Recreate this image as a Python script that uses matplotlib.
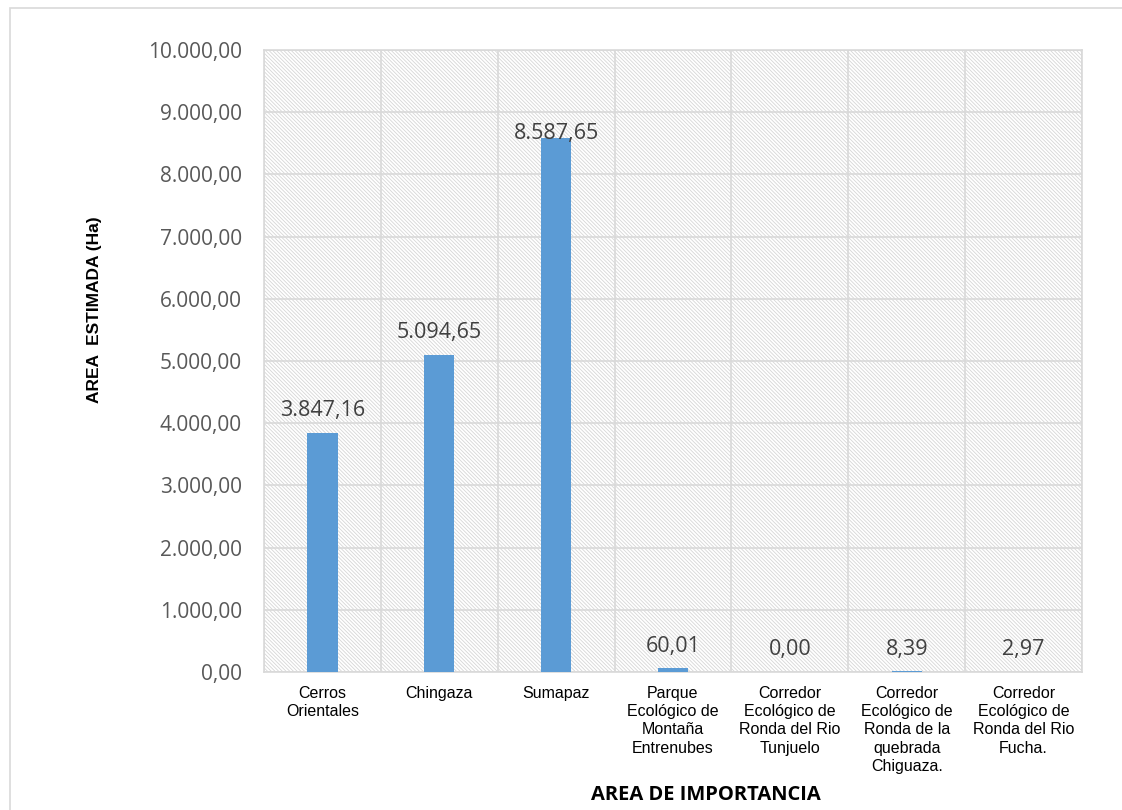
import matplotlib.pyplot as plt
import matplotlib.patches as mpatches
import numpy as np

categorias = [
    "Cerros\nOrientales",
    "Chingaza",
    "Sumapaz",
    "Parque\nEcológico de\nMontaña\nEntrenubes",
    "Corredor\nEcológico de\nRonda del Rio\nTunjuelo",
    "Corredor\nEcológico de\nRonda de la\nquebrada\nChiguaza.",
    "Corredor\nEcológico de\nRonda del Rio\nFucha.",
]
areas = [3847.16, 5094.65, 8587.65, 60.01, 0.00, 8.39, 2.97]
etiquetas = ["3.847,16", "5.094,65", "8.587,65", "60,01", "0,00", "8,39", "2,97"]
y_ticks = [0, 1000, 2000, 3000, 4000, 5000, 6000, 7000, 8000, 9000, 10000]


def formato_es(v):
    s = f"{v:,.2f}"
    return s.replace(",", "X").replace(".", ",").replace("X", ".")


plt.rcParams["hatch.color"] = "#d6d6d6"
plt.rcParams["hatch.linewidth"] = 0.6

fig = plt.figure(figsize=(11.22, 8.1), dpi=100)
# marco exterior del grafico
fig.patches.append(mpatches.Rectangle((10 / 1122, -0.01), 1.1, 1 - 8 / 810 + 0.01,
                                      transform=fig.transFigure, fill=False,
                                      edgecolor="#d9d9d9", linewidth=1.2))
ax = fig.add_axes([264 / 1122, 1 - 672 / 810, (1082 - 264) / 1122, (672 - 50) / 810])

# fondo rayado del area de trazado
ax.patch.set_facecolor("white")
fondo = mpatches.Rectangle((0, 0), 1, 1, transform=ax.transAxes, facecolor="white",
                           hatch="\\" * 9, edgecolor="#d6d6d6", linewidth=0, zorder=0)
ax.add_patch(fondo)

x = np.arange(len(categorias))
ax.bar(x, areas, width=0.26, color="#5b9bd5", zorder=3)

# la etiqueta de Sumapaz queda apoyada sobre el extremo de la barra
desplaz = {2: -1}
for i, (xi, v, t) in enumerate(zip(x, areas, etiquetas)):
    ax.annotate(t, (xi, v), xytext=(0, desplaz.get(i, 12)), textcoords="offset points",
                ha="center", va="baseline", fontsize=15.5, color="#404040",
                family="Open Sans", zorder=4)

ax.set_xlim(-0.5, len(categorias) - 0.5)
ax.set_ylim(0, 10000)
ax.set_yticks(y_ticks)
ax.set_yticklabels([formato_es(v) for v in y_ticks], fontsize=15, color="#595959",
                   family="Open Sans")
ax.set_xticks(x)
ax.set_xticklabels(categorias, fontsize=11.5, family="Liberation Sans", color="black",
                   linespacing=1.27, va="top")
ax.set_xticks(np.arange(len(categorias) + 1) - 0.5, minor=True)
ax.tick_params(axis="both", which="both", length=0)
ax.tick_params(axis="y", pad=16)
ax.tick_params(axis="x", pad=10)

ax.grid(axis="y", which="major", color="#d9d9d9", linewidth=1.2, zorder=1)
ax.grid(axis="x", which="minor", color="#d9d9d9", linewidth=1.2, zorder=1)
ax.grid(axis="x", which="major", visible=False)
ax.set_axisbelow(True)
for s in ax.spines.values():
    s.set_color("#d9d9d9")
    s.set_linewidth(1.2)

fig.text(94 / 1122, 1 - 310 / 810, "AREA  ESTIMADA (Ha)", rotation=90,
         ha="center", va="center", fontsize=12.5, fontweight="bold",
         family="Liberation Sans")
fig.text(706 / 1122, 1 - 795 / 810, "AREA DE IMPORTANCIA",
         ha="center", va="center", fontsize=14.5, fontweight="bold", family="Open Sans")

fig.savefig("out.png", dpi=100)
